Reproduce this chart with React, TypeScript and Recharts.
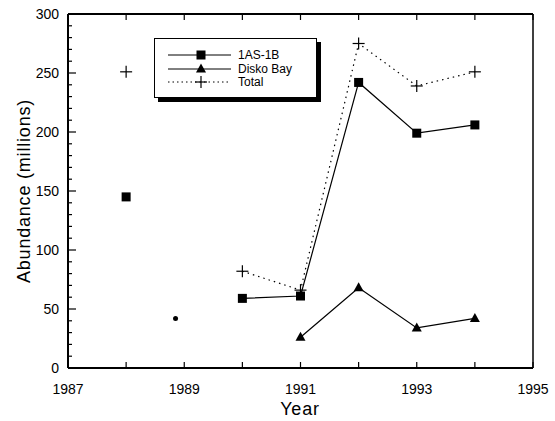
import { LineChart, Line, XAxis, YAxis, Scatter } from 'recharts';

const years = [1988, 1989, 1990, 1991, 1992, 1993, 1994];
const as1b = [145, null, 59, 61, 242, 199, 206];
const disko = [null, null, null, 26, 68, 34, 42];
const total = [251, null, 82, 66, 275, 239, 251];

// stray speck on the scan near 1989
const strayYears = [1988.85];
const strayValues = [42];

const xTicks = [1987, 1988, 1989, 1990, 1991, 1992, 1993, 1994, 1995];
const xLabels = [1987, 1989, 1991, 1993, 1995];
const yLabels = [0, 50, 100, 150, 200, 250, 300];
const yTicks = Array.from({ length: 31 }, (_, i) => i * 10);

const seriesNames = ['1AS-1B', 'Disko Bay', 'Total'];

const data = years.map((year, i) => ({
  year,
  as1b: as1b[i],
  disko: disko[i],
  total: total[i],
}));

const strayData = strayYears.map((year, i) => ({ year, stray: strayValues[i] }));

const FONT = '"Liberation Sans", Arial, Helvetica, sans-serif';

function Square({ cx, cy }: { cx?: number; cy?: number }) {
  if (cx == null || cy == null) return null;
  return <rect x={cx - 4.5} y={cy - 4.5} width={9} height={9} fill="#000" />;
}

function Triangle({ cx, cy }: { cx?: number; cy?: number }) {
  if (cx == null || cy == null) return null;
  return <path d={`M${cx},${cy - 5.5} L${cx + 5},${cy + 3.5} L${cx - 5},${cy + 3.5} Z`} fill="#000" />;
}

function Plus({ cx, cy }: { cx?: number; cy?: number }) {
  if (cx == null || cy == null) return null;
  return (
    <g stroke="#000" strokeWidth={1.2}>
      <line x1={cx - 6} x2={cx + 6} y1={cy} y2={cy} />
      <line x1={cx} x2={cx} y1={cy - 6} y2={cy + 6} />
    </g>
  );
}

function Speck({ cx, cy }: { cx?: number; cy?: number }) {
  if (cx == null || cy == null) return null;
  return <circle cx={cx} cy={cy} r={2.5} fill="#000" />;
}

function BottomTick({ x, y, payload }: any) {
  const v = payload.value;
  return (
    <g>
      <line x1={x} x2={x} y1={y} y2={y - 6} stroke="#000" strokeWidth={1.2} />
      {xLabels.includes(v) && (
        <text x={x} y={y + 26} textAnchor="middle" fontSize={14} fontFamily={FONT} fill="#000">
          {v}
        </text>
      )}
    </g>
  );
}

function TopTick({ x, y }: any) {
  return <line x1={x} x2={x} y1={y} y2={y + 6} stroke="#000" strokeWidth={1.2} />;
}

function LeftTick({ x, y, payload }: any) {
  const v = payload.value;
  const major = yLabels.includes(v);
  return (
    <g>
      <line x1={x} x2={x + (major ? 8 : 4)} y1={y} y2={y} stroke="#000" strokeWidth={1.2} />
      {major && (
        <text x={x - 9} y={y + 5} textAnchor="end" fontSize={14} fontFamily={FONT} fill="#000">
          {v}
        </text>
      )}
    </g>
  );
}

function RightTick({ x, y, payload }: any) {
  const major = yLabels.includes(payload.value);
  return <line x1={x} x2={x - (major ? 8 : 5)} y1={y} y2={y} stroke="#000" strokeWidth={1.2} />;
}

function LegendBox() {
  const markers = [Square, Triangle, Plus];
  return (
    <div
      style={{
        position: 'absolute',
        left: 154,
        top: 38,
        width: 161,
        height: 58,
        border: '1.5px solid #000',
        boxShadow: '4px 4px 0 #000',
        background: '#fff',
        fontFamily: FONT,
        fontSize: 12,
      }}
    >
      {seriesNames.map((name, i) => {
        const M = markers[i];
        return (
          <div
            key={name}
            style={{ position: 'absolute', left: 0, top: 10 + i * 13.5, height: 12, display: 'flex', alignItems: 'center' }}
          >
            <svg width={83} height={12} style={{ display: 'block' }}>
              <line
                x1={13}
                x2={76}
                y1={6}
                y2={6}
                stroke="#000"
                strokeWidth={1}
                strokeDasharray={i === 2 ? '1.5 3' : undefined}
              />
              <M cx={46} cy={6} />
            </svg>
            <span style={{ lineHeight: '12px', whiteSpace: 'nowrap' }}>{name}</span>
          </div>
        );
      })}
    </div>
  );
}

export default function App() {
  return (
    <div style={{ position: 'absolute', left: 0, top: 0, width: 555, height: 421, background: '#fff' }}>
      <LineChart width={555} height={421} data={data} margin={{ top: 13, right: 21, bottom: 52, left: 67 }}>
        <XAxis
          dataKey="year"
          type="number"
          domain={[1987, 1995]}
          ticks={xTicks}
          tick={<BottomTick />}
          tickSize={0}
          tickMargin={0}
          height={1}
          axisLine={{ stroke: '#000', strokeWidth: 2 }}
          interval={0}
        />
        <XAxis
          xAxisId="top"
          orientation="top"
          dataKey="year"
          type="number"
          domain={[1987, 1995]}
          ticks={xTicks}
          tick={<TopTick />}
          tickSize={0}
          tickMargin={0}
          height={1}
          axisLine={{ stroke: '#000', strokeWidth: 2 }}
          interval={0}
        />
        <YAxis
          type="number"
          domain={[0, 300]}
          ticks={yTicks}
          tick={<LeftTick />}
          tickSize={0}
          tickMargin={0}
          width={1}
          axisLine={{ stroke: '#000', strokeWidth: 2 }}
          interval={0}
        />
        <YAxis
          yAxisId="right"
          orientation="right"
          type="number"
          domain={[0, 300]}
          ticks={yTicks}
          tick={<RightTick />}
          tickSize={0}
          tickMargin={0}
          width={1}
          axisLine={{ stroke: '#000', strokeWidth: 1.5 }}
          interval={0}
        />
        <Line
          dataKey="total"
          stroke="#000"
          strokeWidth={1.2}
          strokeDasharray="1.5 4"
          dot={<Plus />}
          isAnimationActive={false}
          connectNulls={false}
        />
        <Line
          dataKey="as1b"
          stroke="#000"
          strokeWidth={1.2}
          dot={<Square />}
          isAnimationActive={false}
          connectNulls={false}
        />
        <Line
          dataKey="disko"
          stroke="#000"
          strokeWidth={1.2}
          dot={<Triangle />}
          isAnimationActive={false}
          connectNulls={false}
        />
        <Scatter data={strayData} dataKey="stray" shape={<Speck />} isAnimationActive={false} />
      </LineChart>
      <div
        style={{
          position: 'absolute',
          left: 24,
          top: 191,
          transform: 'translate(-50%, -50%) rotate(-90deg)',
          fontFamily: FONT,
          fontSize: 18,
          letterSpacing: 0.8,
          whiteSpace: 'nowrap',
        }}
      >
        Abundance (millions)
      </div>
      <div
        style={{
          position: 'absolute',
          left: 300,
          top: 409,
          transform: 'translate(-50%, -50%)',
          fontFamily: FONT,
          fontSize: 18,
          letterSpacing: 0.8,
        }}
      >
        Year
      </div>
      <LegendBox />
    </div>
  );
}
